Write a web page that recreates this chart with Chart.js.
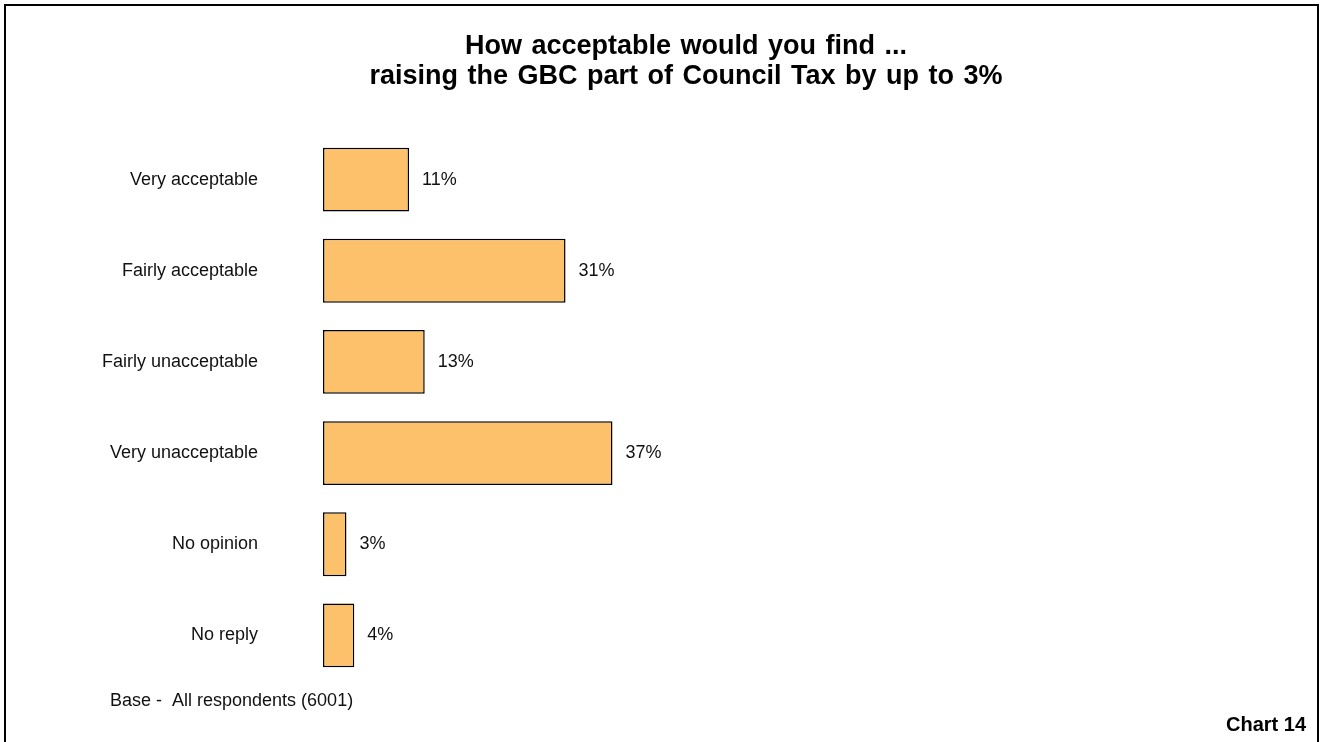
<!DOCTYPE html>
<html>
<head>
<meta charset="utf-8">
<script src="https://cdn.jsdelivr.net/npm/chart.js@4.4.0/dist/chart.umd.min.js"></script>
<style>
  html, body { margin: 0; padding: 0; background: #fff; }
  #wrap { width: 1321px; height: 742px; position: relative; }
</style>
</head>
<body>
<div id="wrap"><canvas id="chart" width="1321" height="742"></canvas></div>
<script>
const categories = ['Very acceptable', 'Fairly acceptable', 'Fairly unacceptable', 'Very unacceptable', 'No opinion', 'No reply'];
const percentages = [11, 31, 13, 37, 3, 4];
const titleLines = ['How acceptable would you find ...', 'raising the GBC part of Council Tax by up to 3%'];
const baseNote = 'Base -  All respondents (6001)';
const chartNumber = 'Chart 14';

const FONT = '"Liberation Sans", Arial, sans-serif';

const decorations = {
  id: 'decorations',
  afterDraw(chart) {
    const ctx = chart.ctx;
    ctx.save();
    // outer frame
    ctx.strokeStyle = '#000';
    ctx.lineWidth = 2;
    ctx.strokeRect(5, 5, 1313, 760);

    // title
    ctx.fillStyle = '#000';
    ctx.font = 'bold 27px ' + FONT;
    ctx.textAlign = 'center';
    ctx.textBaseline = 'alphabetic';
    ctx.wordSpacing = '2px';
    ctx.fillText(titleLines[0], 686, 54);
    ctx.fillText(titleLines[1], 686, 84);
    ctx.wordSpacing = '0px';

    // value labels
    ctx.font = '18px ' + FONT;
    ctx.textAlign = 'left';
    ctx.textBaseline = 'middle';
    ctx.fillStyle = '#111';
    const meta = chart.getDatasetMeta(0);
    meta.data.forEach((bar, i) => {
      ctx.fillText(percentages[i] + '%', bar.x + 13, bar.y);
    });

    // footnotes
    ctx.fillText(baseNote, 110, 701);
    ctx.fillStyle = '#000';
    ctx.font = 'bold 20px ' + FONT;
    ctx.textAlign = 'right';
    ctx.fillText(chartNumber, 1306, 725);
    ctx.restore();
  }
};

new Chart(document.getElementById('chart'), {
  type: 'bar',
  data: {
    labels: categories,
    datasets: [{
      data: percentages,
      backgroundColor: '#FEC16B',
      borderColor: '#000',
      borderWidth: 1.5,
      borderSkipped: false,
      categoryPercentage: 1,
      barPercentage: 0.7
    }]
  },
  options: {
    indexAxis: 'y',
    responsive: false,
    maintainAspectRatio: false,
    animation: false,
    devicePixelRatio: 1,
    layout: { padding: { left: 52, right: 20, top: 134, bottom: 61 } },
    plugins: {
      legend: { display: false },
      tooltip: { enabled: false }
    },
    scales: {
      x: {
        display: false,
        min: 0,
        max: 125
      },
      y: {
        grid: { display: false, drawTicks: false },
        border: { display: false },
        ticks: {
          padding: 65,
          color: '#111',
          font: { family: FONT, size: 18 }
        },
        afterFit(scale) {
          scale.width = 271;
          // tick padding would otherwise eat into the vertical space
          scale.paddingTop = 0;
          scale.paddingBottom = 0;
        }
      }
    }
  },
  plugins: [decorations]
});
</script>
</body>
</html>
